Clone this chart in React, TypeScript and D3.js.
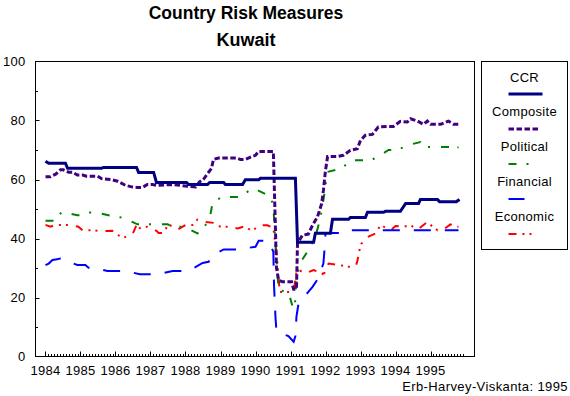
import React from "react";
import * as d3 from "d3";

// ---------- DATA (year fraction, value) ----------
const ccr: [number, number][] = [
  [1984.0, 66.2], [1984.09, 65.5], [1984.57, 65.5], [1984.63, 63.8], [1985.6, 63.8],
  [1985.66, 64.1], [1986.6, 64.1], [1986.66, 62.4], [1987.09, 62.4], [1987.17, 59.0],
  [1988.03, 59.0], [1988.09, 58.3], [1988.63, 58.3], [1988.69, 59.0], [1989.09, 59.0],
  [1989.14, 58.3], [1989.63, 58.3], [1989.71, 59.9], [1990.09, 59.9], [1990.14, 60.4],
  [1991.14, 60.4], [1991.2, 38.7], [1991.66, 38.7], [1991.71, 41.8], [1992.14, 41.8],
  [1992.2, 46.5], [1992.66, 46.5], [1992.71, 47.1], [1993.14, 47.1], [1993.2, 48.9],
  [1993.66, 48.9], [1993.71, 49.2], [1994.14, 49.2], [1994.29, 51.9], [1994.66, 51.9],
  [1994.71, 53.2], [1995.2, 53.2], [1995.26, 52.5], [1995.74, 52.5], [1995.83, 53.2],
];

const composite: [number, number][] = [
  [1984.0, 60.9], [1984.14, 60.9], [1984.29, 61.8], [1984.43, 63.3], [1984.51, 63.3],
  [1984.66, 62.5], [1984.77, 62.5], [1984.91, 61.5], [1985.06, 61.5], [1985.17, 61.1],
  [1985.49, 61.1], [1985.6, 60.3], [1985.86, 60.0], [1986.06, 59.4], [1986.29, 58.0],
  [1986.46, 57.5], [1986.63, 57.3], [1986.77, 57.3], [1986.91, 58.3], [1987.06, 58.3],
  [1987.17, 58.0], [1987.57, 58.3], [1987.86, 58.0], [1988.06, 57.7], [1988.29, 57.5],
  [1988.4, 59.2], [1988.51, 60.0], [1988.63, 62.0], [1988.74, 63.7], [1988.8, 66.8],
  [1988.94, 67.3], [1989.46, 67.3], [1989.57, 66.8], [1989.71, 66.8], [1989.86, 67.6],
  [1990.0, 68.2], [1990.09, 69.5], [1990.51, 69.5], [1990.6, 30.0], [1990.66, 25.9],
  [1990.77, 25.3], [1991.03, 25.3], [1991.09, 22.8], [1991.17, 22.8], [1991.2, 38.3],
  [1991.34, 41.1], [1991.51, 41.5], [1991.63, 44.5], [1991.77, 47.3], [1991.89, 51.8],
  [1991.94, 56.3], [1992.0, 63.1], [1992.06, 67.8], [1992.34, 67.8], [1992.51, 68.2],
  [1992.71, 69.9], [1992.91, 70.4], [1993.0, 73.3], [1993.14, 75.0], [1993.34, 75.3],
  [1993.51, 77.8], [1993.77, 78.0], [1993.94, 78.0], [1994.14, 79.7], [1994.34, 79.5],
  [1994.43, 80.6], [1994.63, 79.8], [1994.8, 78.7], [1994.91, 79.8], [1995.0, 78.7],
  [1995.29, 78.7], [1995.51, 79.8], [1995.66, 78.7], [1995.8, 78.7],
];

const political: [number, number][] = [
  [1984.0, 46.0], [1984.29, 46.0], [1984.46, 49.0], [1984.91, 47.9], [1985.0, 47.9],
  [1985.34, 49.0], [1985.8, 47.9], [1986.23, 47.0], [1986.63, 44.8], [1987.49, 44.8],
  [1987.63, 43.9], [1987.97, 44.0], [1988.34, 41.7], [1988.46, 42.5], [1988.69, 46.8],
  [1988.77, 51.8], [1988.91, 53.2], [1989.14, 54.6], [1989.2, 54.1], [1989.51, 54.1],
  [1989.66, 55.0], [1989.94, 57.1], [1990.29, 55.0], [1990.43, 53.9], [1990.51, 51.3],
  [1990.57, 38.0], [1990.66, 22.5], [1990.94, 21.9], [1991.06, 16.9], [1991.12, 16.3],
  [1991.17, 25.9], [1991.26, 31.5], [1991.51, 36.0], [1991.57, 37.2], [1991.71, 40.5],
  [1991.86, 47.3], [1991.94, 53.0], [1992.0, 57.5], [1992.03, 62.5], [1992.43, 63.7],
  [1992.51, 64.2], [1992.71, 66.5], [1993.29, 66.5], [1993.51, 67.8], [1993.8, 70.0],
  [1994.06, 70.0], [1994.34, 71.6], [1994.71, 72.7], [1994.8, 71.0], [1995.57, 71.0],
  [1995.66, 70.1], [1995.8, 71.0],
];

const financial: [number, number][] = [
  [1984.0, 31.0], [1984.09, 31.5], [1984.2, 32.7], [1984.29, 32.9], [1984.43, 33.2],
  [1984.91, 31.0], [1985.14, 31.0], [1985.23, 30.1], [1985.37, 30.1], [1985.77, 29.0],
  [1986.29, 29.0], [1986.69, 27.9], [1987.2, 27.9], [1987.63, 29.0], [1988.09, 29.0],
  [1988.49, 31.7], [1988.66, 32.1], [1988.77, 34.3], [1989.09, 36.3], [1989.51, 36.3],
  [1990.0, 37.2], [1990.09, 39.2], [1990.37, 39.2], [1990.51, 35.5], [1990.53, 24.0],
  [1990.57, 13.5], [1990.6, 8.4], [1990.94, 6.9], [1991.09, 5.0], [1991.14, 6.9],
  [1991.17, 13.5], [1991.23, 18.0], [1991.51, 21.9], [1991.63, 23.6], [1991.77, 26.1],
  [1991.94, 31.5], [1991.97, 36.0], [1992.0, 41.9], [1992.49, 41.9], [1992.57, 42.8],
  [1995.8, 42.8],
];

const economic: [number, number][] = [
  [1984.0, 44.6], [1984.14, 44.0], [1984.29, 44.6], [1984.66, 44.6], [1984.94, 44.0],
  [1985.06, 42.8], [1985.34, 42.8], [1985.57, 42.5], [1985.91, 42.6], [1986.0, 41.5],
  [1986.23, 40.3], [1986.49, 41.5], [1986.6, 44.6], [1986.63, 43.4], [1986.91, 44.0],
  [1987.17, 42.6], [1987.23, 41.9], [1987.37, 41.9], [1987.51, 44.8], [1987.77, 43.0],
  [1988.0, 44.6], [1988.2, 44.6], [1988.34, 46.4], [1988.57, 45.6], [1988.8, 45.3],
  [1989.0, 44.0], [1989.23, 44.0], [1989.49, 43.4], [1989.71, 44.2], [1989.86, 42.8],
  [1989.94, 42.8], [1990.09, 44.5], [1990.34, 44.5], [1990.51, 43.6], [1990.6, 35.0],
  [1990.66, 27.0], [1990.69, 21.9], [1991.09, 21.9], [1991.17, 28.7], [1991.23, 29.3],
  [1991.43, 28.2], [1991.66, 29.3], [1991.91, 28.2], [1991.94, 27.0], [1992.0, 29.9],
  [1992.09, 31.5], [1992.4, 31.0], [1992.63, 30.4], [1992.86, 30.4], [1992.91, 32.4],
  [1992.97, 36.0], [1993.03, 38.3], [1993.2, 40.5], [1993.43, 41.7], [1993.57, 44.5],
  [1993.66, 44.0], [1993.86, 42.8], [1994.0, 44.2], [1994.23, 44.0], [1994.43, 44.5],
  [1994.63, 43.0], [1994.91, 45.6], [1995.06, 44.0], [1995.2, 42.8], [1995.37, 43.0],
  [1995.57, 44.8], [1995.71, 44.0], [1995.8, 44.0],
];

const yearLabels = [1984, 1985, 1986, 1987, 1988, 1989, 1990, 1991, 1992, 1993, 1994, 1995];
const yTickLabels = [0, 20, 40, 60, 80, 100];
const seriesNames = ["CCR", "Composite", "Political", "Financial", "Economic"];
const titleLines = ["Country Risk Measures", "Kuwait"];
const credit = "Erb-Harvey-Viskanta: 1995";

// ---------- STYLES ----------
const styles = [
  { color: "#000080", width: 3, dash: "", legendLen: 34 },
  { color: "#400080", width: 3, dash: "5.5,2.5", legendLen: 30 },
  { color: "#008000", width: 2, dash: "8,10,2,11", legendLen: 21 },
  { color: "#0000ff", width: 2, dash: "17,14", legendLen: 16 },
  { color: "#ff0000", width: 2, dash: "8,6,2,5,2,8", legendLen: 24 },
];

const FONT = "'Liberation Sans', Arial, Helvetica, sans-serif";

export default function App() {
  const W = 570, H = 396;
  const left = 35.5, right = 474.5, top = 61.5, bottom = 356.5;
  const x = d3.scaleLinear().domain([1984 - 10 / 35, 1984 + 429 / 35]).range([left, right]);
  const y = d3.scaleLinear().domain([0, 100]).range([bottom, top]);
  const line = d3.line<[number, number]>().x(d => x(d[0])).y(d => y(d[1]));
  const data = [ccr, composite, political, financial, economic];

  const monthTicks: number[] = [];
  for (let m = 0; m < 12 * 12; m++) monthTicks.push(1984 + m / 12);
  const yTicks = d3.range(10, 100, 10);

  return (
    <svg width={W} height={H} style={{ position: "absolute", left: 0, top: 0, background: "#fff" }}
      fontFamily={FONT}>
      <rect x={0} y={0} width={W} height={H} fill="#fff" />
      {/* title */}
      <text x={246} y={19} textAnchor="middle" fontSize={17.5} fontWeight="bold">{titleLines[0]}</text>
      <text x={246} y={45.5} textAnchor="middle" fontSize={18} fontWeight="bold">{titleLines[1]}</text>

      {/* series */}
      {data.map((d, i) => (
        <path key={i} d={line(d) || ""} fill="none" stroke={styles[i].color}
          strokeWidth={styles[i].width} strokeDasharray={styles[i].dash || undefined}
          strokeLinejoin="miter" />
      )).reverse()}

      {/* frame */}
      <rect x={left} y={top} width={right - left} height={bottom - top} fill="none" stroke="#000" strokeWidth={1} />

      {/* x ticks */}
      {monthTicks.map((t, i) => {
        const major = i % 12 === 0;
        const px = Math.round(x(t)) + 0.5;
        return <line key={i} x1={px} x2={px} y1={bottom} y2={bottom - (major ? 5 : 2.5)} stroke="#000" strokeWidth={1} />;
      })}
      {yearLabels.map(yr => (
        <text key={yr} x={x(yr)} y={375} textAnchor="middle" fontSize={13} letterSpacing={0.3}>{yr}</text>
      ))}

      {/* y ticks */}
      {yTicks.map(v => (
        <line key={v} x1={left} x2={left + (v % 20 === 0 ? 4 : 2.5)} y1={Math.round(y(v)) + 0.5} y2={Math.round(y(v)) + 0.5} stroke="#000" />
      ))}
      {yTickLabels.map(v => (
        <text key={v} x={25.5} y={y(v) + 4.5} textAnchor="end" fontSize={13} letterSpacing={0.3}>{v}</text>
      ))}

      {/* credit */}
      <text x={568} y={391} textAnchor="end" fontSize={13} letterSpacing={0.4}>{credit}</text>

      {/* legend */}
      <rect x={481.5} y={61.5} width={86} height={188} fill="#fff" stroke="#000" strokeWidth={1} />
      {seriesNames.map((name, i) => {
        const cy = 77 + i * 34.8;
        const ly = Math.round(cy + 17.3);
        return (
          <g key={name}>
            <text x={524.5} y={cy + 4.5} textAnchor="middle" fontSize={13} letterSpacing={0.3}>{name}</text>
            <line x1={508.5} x2={508.5 + styles[i].legendLen} y1={ly} y2={ly} stroke={styles[i].color}
              strokeWidth={styles[i].width} strokeDasharray={styles[i].dash || undefined} />
          </g>
        );
      })}
    </svg>
  );
}
